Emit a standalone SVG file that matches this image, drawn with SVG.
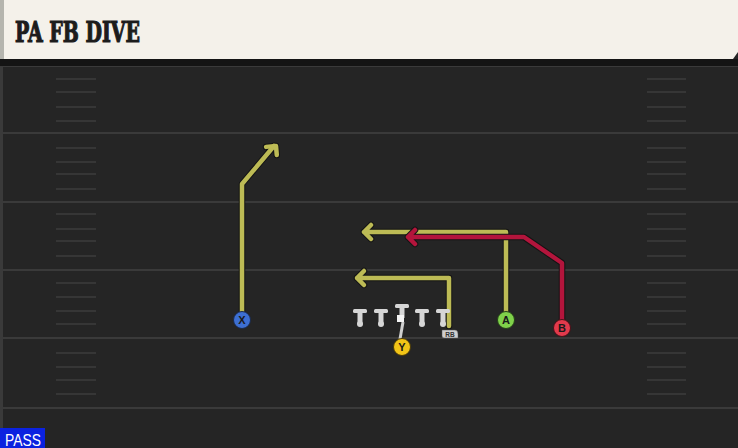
<svg xmlns="http://www.w3.org/2000/svg" width="738" height="448" viewBox="0 0 738 448">
<defs>
<style>
.fl{stroke:#3a3a3a;stroke-width:2}
.hs{stroke:#363636;stroke-width:2}
.ro{fill:none;stroke:#141414;stroke-width:6.5;stroke-linejoin:round;stroke-linecap:round}
.ry{fill:none;stroke:#bdbb55;stroke-width:4.5;stroke-linejoin:round;stroke-linecap:round}
.rr{fill:none;stroke:#b3153c;stroke-width:4.5;stroke-linejoin:round;stroke-linecap:round}
.lt{font-family:"Liberation Sans",Arial,sans-serif;font-weight:bold;font-size:11px;fill:#1a1a1a;text-anchor:middle}
.ol{fill:#d6d6d6}
</style>
</defs>
<rect width="738" height="448" fill="#252525"/>
<rect x="0" y="66" width="3" height="382" fill="#3a3a3a"/>
<g id="field">
<line class="fl" x1="0" y1="66" x2="738" y2="66"/>
<line class="fl" x1="0" y1="133" x2="738" y2="133"/>
<line class="fl" x1="0" y1="202" x2="738" y2="202"/>
<line class="fl" x1="0" y1="270" x2="738" y2="270"/>
<line class="fl" x1="0" y1="338" x2="738" y2="338"/>
<line class="fl" x1="0" y1="408" x2="738" y2="408"/>
<g class="hs">
<path d="M56 79H96M56 92H96M56 107H96M56 121H96M56 148H96M56 162H96M56 174H96M56 189H96M56 214H96M56 229H96M56 241H96M56 256H96M56 283H96M56 297H96M56 311H96M56 324H96M56 353H96M56 367H96M56 380H96M56 394H96"/>
<path d="M647 79H686M647 92H686M647 107H686M647 121H686M647 148H686M647 162H686M647 174H686M647 189H686M647 214H686M647 229H686M647 241H686M647 256H686M647 283H686M647 297H686M647 311H686M647 324H686M647 353H686M647 367H686M647 380H686M647 394H686"/>
</g>
</g>
<g id="header">
<rect x="0" y="59" width="738" height="7" fill="#141414"/>
<path d="M0 0H738V52L733 59H0Z" fill="#f4f1ea"/>
<rect x="0" y="0" width="4" height="59" fill="#b5b5ae"/>
<text x="15" y="42" font-family="DejaVu Serif,serif" font-weight="bold" font-size="27" fill="#1c1c1c" stroke="#1c1c1c" stroke-width="1.2" textLength="125" lengthAdjust="spacingAndGlyphs">PA FB DIVE</text>
</g>
<g id="connectors">
<path class="ro" d="M242 320V184L274 146"/>
<path class="ro" d="M266 146H276V155" transform="rotate(-5 276 146)"/>
<path class="ry" d="M242 320V184L274 146"/>
<path class="ry" d="M266 146H276V155" transform="rotate(-5 276 146)"/>
<path class="ro" d="M506 320V232H364M371 225L364 232L371 239"/>
<path class="ry" d="M506 320V232H364M371 225L364 232L371 239"/>
<path class="ro" d="M562 328V263L524 237H408M415 230L408 237L415 244"/>
<path class="rr" d="M562 328V263L524 237H408M415 230L408 237L415 244"/>
<path class="ro" d="M449 326V278H357M364 271L357 278L364 285"/>
<path class="ry" d="M449 326V278H357M364 271L357 278L364 285"/>
<path d="M400 339L403 322" stroke="#cfcfcf" stroke-width="3" fill="none"/>
</g>
<g id="line">
<g id="lt1"><rect class="ol" x="353" y="309" width="14" height="4" rx="1.5"/><rect class="ol" x="357.5" y="311" width="5" height="13"/><circle class="ol" cx="360" cy="324" r="3"/></g>
<g id="lt2"><rect class="ol" x="374" y="309" width="14" height="4" rx="1.5"/><rect class="ol" x="378.5" y="311" width="5" height="13"/><circle class="ol" cx="381" cy="324" r="3"/></g>
<g id="center"><rect class="ol" x="395" y="304" width="14" height="4" rx="1.5"/><rect class="ol" x="399.5" y="306" width="5" height="12"/><rect x="397" y="315" width="7" height="7" fill="#f4f4f4"/></g>
<g id="rt1"><rect class="ol" x="415" y="309" width="14" height="4" rx="1.5"/><rect class="ol" x="419.5" y="311" width="5" height="13"/><circle class="ol" cx="422" cy="324" r="3"/></g>
<g id="rt2"><rect class="ol" x="436" y="309" width="14" height="4" rx="1.5"/><rect class="ol" x="440.5" y="311" width="5" height="13"/><circle class="ol" cx="443" cy="324" r="3"/></g>
</g>
<g id="RB">
<path d="M442 330H455Q458 330 458 334V338H444Q442 338 442 336Z" fill="#cfcfcf" stroke="#555" stroke-width="0.5"/>
<text x="450" y="337" font-family="Liberation Sans,Arial,sans-serif" font-size="6.5" font-weight="bold" fill="#333" text-anchor="middle">RB</text>
</g>
<g id="X"><circle cx="242" cy="320" r="8.5" fill="#3d6fd2" stroke="#1b2a4a" stroke-width="1"/><text class="lt" x="242" y="324">X</text></g>
<g id="A"><circle cx="506" cy="320" r="8.5" fill="#7fd14a" stroke="#244018" stroke-width="1"/><text class="lt" x="506" y="324">A</text></g>
<g id="B"><circle cx="562" cy="328" r="8.5" fill="#e23a4c" stroke="#4a1018" stroke-width="1"/><text class="lt" x="562" y="332">B</text></g>
<g id="Y"><circle cx="402" cy="347" r="8.5" fill="#f2c417" stroke="#4a3a08" stroke-width="1"/><text class="lt" x="402" y="351">Y</text></g>
<g id="pass">
<rect x="0" y="428" width="45" height="20" fill="#0b22e0"/>
<text x="5" y="445.5" font-family="Liberation Sans,Arial,sans-serif" font-size="17" fill="#ffffff" textLength="36" lengthAdjust="spacingAndGlyphs">PASS</text>
</g>
</svg>
